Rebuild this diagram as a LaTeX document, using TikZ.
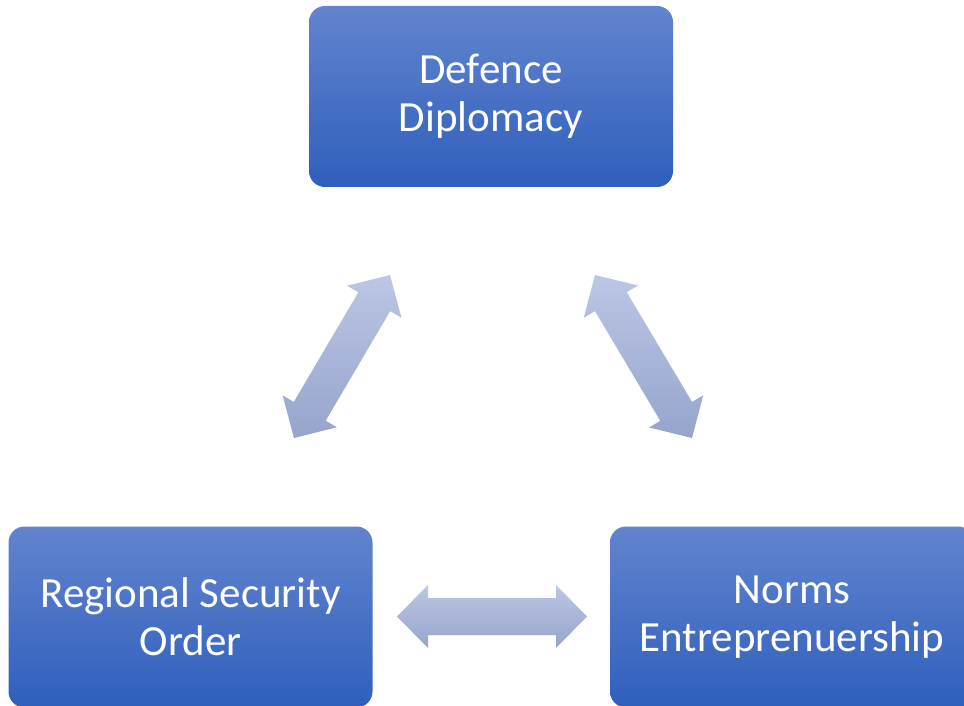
\documentclass[tikz,border=0pt]{standalone}
\usepackage{fontspec}
\setmainfont{Carlito}
\usetikzlibrary{calc}
\definecolor{boxtop}{RGB}{98,132,207}
\definecolor{boxbot}{RGB}{47,95,188}
\definecolor{arrtop}{RGB}{188,198,229}
\definecolor{arrbot}{RGB}{150,164,204}
\tikzset{
  blockbox/.style={rounded corners=16pt, minimum width=364pt, minimum height=181pt,
    top color=boxtop, bottom color=boxbot, draw=none, text=white, align=center,
    font=\fontsize{43}{48}\selectfont, inner sep=0pt},
  arrowshade/.style={top color=arrtop, bottom color=arrbot, draw=none}
}
\newcommand\dblarrow[2]{%
  \coordinate (ha) at ($(#1)!31pt!(#2)$);
  \coordinate (hb) at ($(#2)!31pt!(#1)$);
  \shade[arrowshade] (#1)
    -- ($(ha)!31.5pt!-90:(#2)$) -- ($(ha)!18.5pt!-90:(#2)$)
    -- ($(hb)!18.5pt!90:(#1)$) -- ($(hb)!31.5pt!90:(#1)$)
    -- (#2)
    -- ($(hb)!31.5pt!-90:(#1)$) -- ($(hb)!18.5pt!-90:(#1)$)
    -- ($(ha)!18.5pt!90:(#2)$) -- ($(ha)!31.5pt!90:(#2)$) -- cycle;
}
\begin{document}
\begin{tikzpicture}[x=1pt,y=1pt]
\useasboundingbox (0,0) rectangle (964,705);
\clip (0,0) rectangle (964,705);
\node[blockbox] (dd) at (491,608.5) {Defence\\Diplomacy};
\node[blockbox] (rso) at (190.5,88) {Regional Security\\Order};
\node[blockbox] (ne) at (792,88) {Norms\\Entreprenuership};
\coordinate (l1) at (294,267);
\coordinate (l2) at (390,430);
\coordinate (r1) at (595,430);
\coordinate (r2) at (692,267);
\coordinate (h1) at (397,88.5);
\coordinate (h2) at (587,88.5);
\dblarrow{l1}{l2}
\dblarrow{r1}{r2}
\dblarrow{h1}{h2}
\end{tikzpicture}
\end{document}
